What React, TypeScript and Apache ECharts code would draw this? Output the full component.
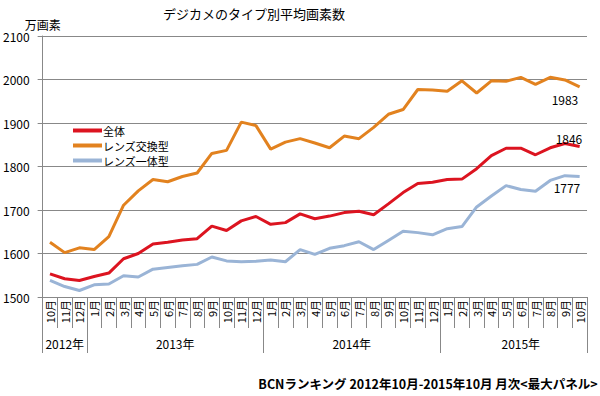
import React, { useEffect, useRef } from "react";
import * as echarts from "echarts";

const months: string[] = [
  "2012-10", "2012-11", "2012-12",
  "2013-1", "2013-2", "2013-3", "2013-4", "2013-5", "2013-6", "2013-7", "2013-8", "2013-9", "2013-10", "2013-11", "2013-12",
  "2014-1", "2014-2", "2014-3", "2014-4", "2014-5", "2014-6", "2014-7", "2014-8", "2014-9", "2014-10", "2014-11", "2014-12",
  "2015-1", "2015-2", "2015-3", "2015-4", "2015-5", "2015-6", "2015-7", "2015-8", "2015-9", "2015-10",
];

const seriesNames: string[] = ["全体", "レンズ交換型", "レンズ一体型"];

const overall: number[] = [
  1553, 1542, 1538, 1547, 1555, 1588, 1600, 1622, 1626, 1631,
  1634, 1663, 1653, 1675, 1685, 1667, 1671, 1691, 1680,
  1686, 1694, 1697, 1689, 1714, 1740, 1761, 1764, 1770, 1771,
  1795, 1825, 1842, 1842, 1827, 1843, 1853, 1846,
];

const interchangeable: number[] = [
  1626, 1602, 1613, 1609, 1639, 1711, 1744, 1770, 1765, 1777,
  1785, 1830, 1837, 1902, 1894, 1840, 1856, 1864, 1854,
  1843, 1870, 1864, 1890, 1920, 1931, 1977, 1976, 1973, 1997,
  1969, 1997, 1996, 2005, 1989, 2005, 1999, 1983,
];

const fixedLens: number[] = [
  1538, 1524, 1515, 1528, 1530, 1549, 1546, 1564, 1568, 1572,
  1575, 1592, 1583, 1581, 1582, 1585, 1581, 1609, 1598,
  1612, 1618, 1627, 1609, 1630, 1651, 1648, 1643, 1657, 1662,
  1707, 1732, 1756, 1747, 1743, 1768, 1779, 1777,
];

// index where each year's label sits, and year boundaries
const yearLabelIdx: number[] = [1, 8, 20, 32];
const yearEvenSpan: boolean[] = [false, true, true, false];
const yearBoundaryIdx: number[] = [0, 3, 15, 27];

const FONT = "'Noto Sans CJK JP', 'Noto Sans', sans-serif";

export default function App() {
  const ref = useRef<HTMLDivElement>(null);

  useEffect(() => {
    if (!ref.current) return;
    const chart = echarts.init(ref.current, null, { renderer: "svg" });
    const colors = ["#DC1420", "#E2821F", "#9AB4D6"];
    const values = [overall, interchangeable, fixedLens];
    const endOffsets = [
      [-24, -8],
      [-28, 13],
      [-26, 11],
    ];

    const series = values.map((vals, si) => ({
      name: seriesNames[si],
      type: "line",
      xAxisIndex: 0,
      symbol: "none",
      lineStyle: { width: 3, color: colors[si] },
      itemStyle: { color: colors[si] },
      endLabel: {
        show: true,
        distance: 0,
        align: "left",
        verticalAlign: "middle",
        offset: endOffsets[si],
        color: "#000",
        fontSize: 12,
        fontFamily: FONT,
        formatter: (p: any) => String(p.value),
      },
      data: vals,
    }));

    chart.setOption({
      animation: false,
      textStyle: { fontFamily: FONT },
      title: [
        {
          text: "デジカメのタイプ別平均画素数",
          left: 158,
          top: 2,
          textStyle: { fontSize: 13, fontWeight: "normal", color: "#000", fontFamily: FONT },
        },
        {
          text: "BCNランキング 2012年10月-2015年10月 月次<最大パネル>",
          right: -3,
          top: 372,
          textStyle: { fontSize: 12.5, fontWeight: "bold", color: "#000", fontFamily: FONT },
        },
      ],
      legend: {
        orient: "vertical",
        left: 68,
        top: 119,
        itemGap: 2,
        itemWidth: 29,
        itemHeight: 4,
        icon: "rect",
        data: seriesNames,
        textStyle: { fontSize: 11, lineHeight: 13, color: "#000", fontFamily: FONT, padding: [0, 0, 0, -4] },
      },
      grid: { left: 41, right: 13, top: 36, bottom: 99, containLabel: false },
      xAxis: [
        {
          type: "category",
          data: months,
          boundaryGap: true,
          axisLine: { show: true, lineStyle: { color: "#888", width: 1 } },
          axisTick: { show: true, interval: 0, length: 31, lineStyle: { color: "#888" } },
          axisLabel: {
            interval: 0,
            rotate: 90,
            margin: 3,
            fontSize: 11,
            color: "#000",
            fontFamily: FONT,
            formatter: (v: string) => v.split("-")[1] + "月",
          },
          splitLine: { show: false },
        },
        {
          type: "category",
          data: months,
          boundaryGap: true,
          position: "bottom",
          axisLine: { show: false },
          axisTick: {
            show: true,
            length: 56,
            interval: (idx: number) => yearBoundaryIdx.includes(idx),
            lineStyle: { color: "#888" },
          },
          axisLabel: {
            interval: (idx: number) => yearLabelIdx.includes(idx),
            margin: 40,
            fontSize: 12,
            color: "#000",
            fontFamily: FONT,
            formatter: (v: string, idx: number) => {
              const k = yearLabelIdx.indexOf(idx);
              const y = v.split("-")[0] + "年";
              return k >= 0 && yearEvenSpan[k] ? "{s|" + y + "}" : y;
            },
            rich: {
              s: { padding: [0, 0, 0, 15], fontSize: 12, color: "#000", fontFamily: FONT },
            },
          },
          splitLine: { show: false },
        },
      ],
      yAxis: {
        type: "value",
        min: 1500,
        max: 2100,
        interval: 100,
        name: "万画素",
        nameLocation: "end",
        nameGap: 3,
        nameTextStyle: { fontSize: 12, color: "#000", fontFamily: FONT, align: "center" },
        axisLine: { show: true, lineStyle: { color: "#888", width: 1 } },
        axisTick: { show: true, length: 5, lineStyle: { color: "#888" } },
        axisLabel: {
          fontSize: 12,
          color: "#000",
          margin: 13,
          fontFamily: FONT,
          formatter: (v: number) => String(v),
        },
        splitLine: { show: true, lineStyle: { color: "#888", width: 1 } },
      },
      series,
    });

    return () => chart.dispose();
  }, []);

  return (
    <div
      ref={ref}
      style={{ position: "absolute", left: 0, top: 0, width: 600, height: 396 }}
    />
  );
}
